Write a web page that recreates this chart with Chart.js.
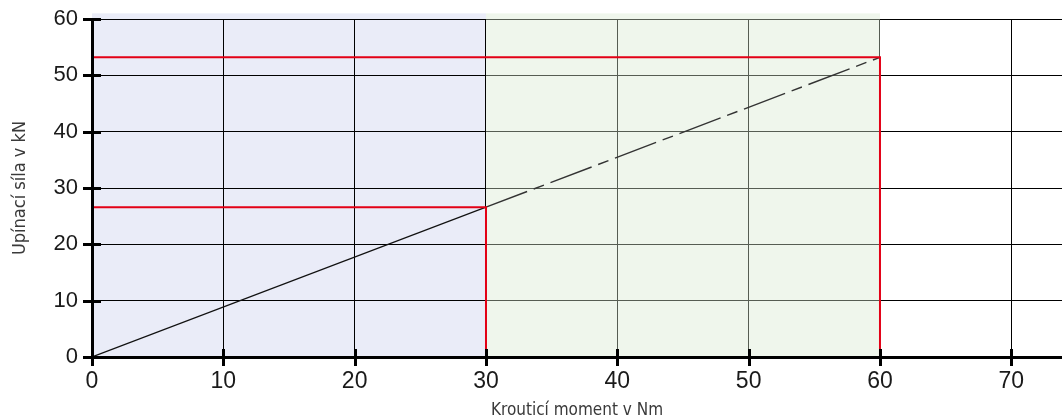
<!DOCTYPE html>
<html>
<head>
<meta charset="utf-8">
<script src="https://cdn.jsdelivr.net/npm/chart.js@4.4.1/dist/chart.umd.min.js"></script>
<style>
  html, body { margin: 0; padding: 0; background: #fff; }
  #box { width: 1062px; height: 419px; }
</style>
</head>
<body>
<div id="box"><canvas id="chartCanvas"></canvas></div>
<script>
// osa X: kroutici moment (Nm), osa Y: upinaci sila (kN)
const xTicks = [0, 10, 20, 30, 40, 50, 60, 70];
const yTicks = [0, 10, 20, 30, 40, 50, 60];
const xMax = 73.86;

// prubeh sily - plna cast do 30 Nm, carkovana do 60 Nm
const momentPlny = [0, 30];
const silaPlna = [0, 26.6];
const momentCarka = [30, 60];
const silaCarka = [26.6, 53.2];

// odecitaci cary (cervene)
const odecet30x = [0, 30, 30];
const odecet30y = [26.6, 26.6, 0];
const odecet60x = [0, 60, 60];
const odecet60y = [53.2, 53.2, 0];

// barevne pasy
const pasModry = { from: 0, to: 30, top: 61, color: "#EAECF8" };
const pasZeleny = { from: 30, to: 60, top: 61, color: "rgba(215,232,207,0.4)" };

function body(xs, ys) {
  return xs.map((x, i) => ({ x: x, y: ys[i] }));
}

const tickFont = "'Liberation Sans', Arial, sans-serif";
const titleFont = "'Liberation Sans Narrow', 'DejaVu Sans Condensed', 'Roboto Condensed', 'Liberation Sans', sans-serif";

function kresliPas(chart, pas) {
  const { ctx, scales: { x, y } } = chart;
  const l = x.getPixelForValue(pas.from);
  const r = x.getPixelForValue(pas.to);
  const t = y.getPixelForValue(pas.top);
  const b = y.getPixelForValue(0);
  ctx.save();
  ctx.fillStyle = pas.color;
  ctx.fillRect(l, t, r - l, b - t);
  ctx.restore();
}

const pasy = {
  id: "pasy",
  beforeDraw(chart) { kresliPas(chart, pasModry); },
  beforeDatasetsDraw(chart) { kresliPas(chart, pasZeleny); }
};

// tlusté carky pres osy (na obe strany)
const carkyOs = {
  id: "carkyOs",
  afterDraw(chart) {
    const { ctx, scales: { x, y } } = chart;
    const x0 = x.getPixelForValue(0);
    const y0 = y.getPixelForValue(0);
    ctx.save();
    ctx.strokeStyle = "#000";
    ctx.lineWidth = 3;
    ctx.beginPath();
    yTicks.forEach(v => {
      const p = Math.round(y.getPixelForValue(v)) + 0.5;
      ctx.moveTo(x0 - 9, p);
      ctx.lineTo(x0 + 9, p);
    });
    xTicks.forEach(v => {
      const p = Math.round(x.getPixelForValue(v)) + 0.5;
      ctx.moveTo(p, y0 - 8);
      ctx.lineTo(p, y0 + 9);
    });
    ctx.stroke();
    ctx.restore();
  }
};

new Chart(document.getElementById("chartCanvas"), {
  type: "line",
  data: {
    datasets: [
      {
        data: body(odecet30x, odecet30y),
        borderColor: "#E30016",
        borderWidth: 2,
        pointRadius: 0,
        tension: 0
      },
      {
        data: body(odecet60x, odecet60y),
        borderColor: "#E30016",
        borderWidth: 2,
        pointRadius: 0,
        tension: 0
      },
      {
        data: body(momentPlny, silaPlna),
        borderColor: "#111",
        borderWidth: 1.2,
        pointRadius: 0
      },
      {
        data: body(momentCarka, silaCarka),
        borderColor: "#333",
        borderWidth: 1.4,
        borderDash: [44, 7, 11, 7],
        pointRadius: 0
      }
    ]
  },
  options: {
    responsive: true,
    maintainAspectRatio: false,
    animation: false,
    events: [],
    layout: { padding: { top: 19, right: 0, left: 0, bottom: 0 } },
    plugins: {
      legend: { display: false },
      tooltip: { enabled: false }
    },
    scales: {
      x: {
        type: "linear",
        min: 0,
        max: xMax,
        afterFit(scale) {
          scale.height = 62;
          scale.paddingLeft = 0;
          scale.paddingRight = 0;
        },
        afterBuildTicks(scale) { scale.ticks = xTicks.map(v => ({ value: v })); },
        grid: { color: "#000", lineWidth: 1, drawTicks: false },
        border: { color: "#000", width: 3, z: 1 },
        ticks: {
          includeBounds: false,
          stepSize: 10,
          padding: 11,
          maxRotation: 0,
          color: "#1a1a1a",
          font: { family: tickFont, size: 23 }
        },
        title: {
          display: true,
          text: "Krouticí moment v Nm",
          color: "#3a3a3a",
          padding: { top: 0, bottom: 0 },
          font: { family: titleFont, size: 17, lineHeight: 1.0 }
        }
      },
      y: {
        type: "linear",
        min: 0,
        max: 60,
        afterFit(scale) {
          scale.width = 92;
          scale.paddingTop = 0;
          scale.paddingBottom = 0;
        },
        afterBuildTicks(scale) { scale.ticks = yTicks.map(v => ({ value: v })); },
        grid: { color: "#000", lineWidth: 1, drawTicks: false },
        border: { color: "#000", width: 3, z: 1 },
        ticks: {
          stepSize: 10,
          padding: 14,
          color: "#1a1a1a",
          font: { family: tickFont, size: 22 }
        },
        title: {
          display: true,
          text: "Upínací síla v kN",
          color: "#3a3a3a",
          padding: { top: 11, bottom: 0 },
          font: { family: titleFont, size: 18, lineHeight: 1.0 }
        }
      }
    }
  },
  plugins: [pasy, carkyOs]
});
</script>
</body>
</html>
